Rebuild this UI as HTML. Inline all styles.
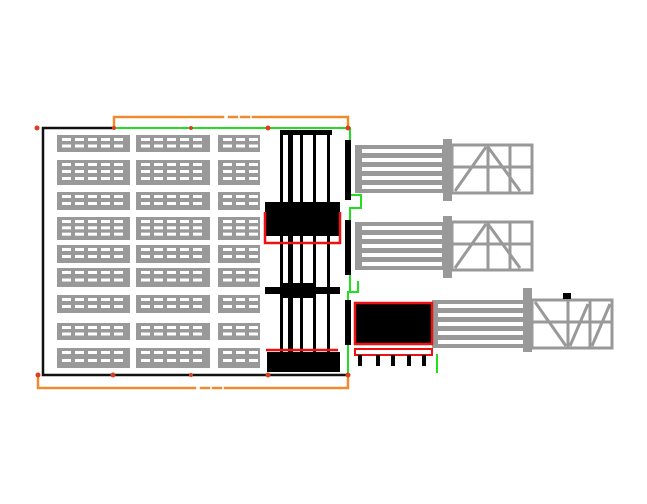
<!DOCTYPE html>
<html><head><meta charset="utf-8"><style>html,body{margin:0;padding:0;background:#fff}svg{display:block}</style></head>
<body>
<svg id="s" width="647" height="504" viewBox="0 0 647 504" xmlns="http://www.w3.org/2000/svg">
<g fill="none" stroke-linecap="square">
<path d="M114 128 V117 H348 V128" stroke="#f08a30" stroke-width="2.5" stroke-dasharray="120 6 8 4 8 4 200"/>
<path d="M38 375 V388 H348 V375" stroke="#f08a30" stroke-width="2.5" stroke-dasharray="170 6 8 4 8 4 200"/>
<path d="M114 128 H43 V375 H348" stroke="#111" stroke-width="2.5"/>
<path d="M114 128 H350" stroke="#22dd22" stroke-width="2"/>
<path d="M350 128 V195 H361 V208 H350 V292 H348 V372" stroke="#22dd22" stroke-width="2"/>
<path d="M350 292 H358 V282" stroke="#22dd22" stroke-width="2"/>
<path d="M437 355 V372" stroke="#22dd22" stroke-width="2"/>
</g>
<g id="racks" fill="#999"></g>
<g fill="#000">
<rect x="280" y="130" width="52" height="5"/>
<rect x="280" y="130" width="3" height="242"/>
<rect x="288" y="130" width="5" height="242"/>
<rect x="300" y="130" width="3" height="242"/>
<rect x="313" y="130" width="3" height="242"/>
<rect x="327" y="130" width="3" height="242"/>
<rect x="265" y="202" width="75" height="34"/>
<rect x="265" y="287" width="75" height="7"/>
<rect x="280" y="283" width="35" height="15"/>
<rect x="267" y="352" width="73" height="20"/>
<rect x="345" y="140" width="6" height="60"/>
<rect x="345" y="220" width="6" height="55"/>
<rect x="345" y="300" width="6" height="45"/>
</g>
<g fill="none" stroke="#ee1111" stroke-width="2.5">
<path d="M265 212 V243 H340 V212"/>
<path d="M266 350 H338"/>
</g>
<g id="mods"></g>
<rect x="355" y="303" width="77" height="41" fill="#000" stroke="#ee1111" stroke-width="2.5"/>
<rect x="355" y="349" width="77" height="6" fill="#fff" stroke="#ee1111" stroke-width="2"/>
<g fill="#000"><rect x="358" y="355" width="4" height="11"/><rect x="376" y="355" width="4" height="11"/><rect x="391" y="355" width="4" height="11"/><rect x="407" y="355" width="4" height="11"/><rect x="422" y="355" width="4" height="11"/><rect x="563" y="293" width="8" height="6"/></g>
<g fill="#d84020"><circle cx="37" cy="128" r="2.5"/><circle cx="38" cy="375" r="2.5"/><circle cx="113" cy="375" r="2.5"/><circle cx="191" cy="375" r="2"/><circle cx="268" cy="375" r="2.5"/><circle cx="268" cy="128" r="2.5"/><circle cx="191" cy="128" r="2"/><circle cx="348" cy="375" r="2.5"/><circle cx="114" cy="128" r="2"/><circle cx="348" cy="128" r="2.5"/></g>
</svg>
<script>
var NS="http://www.w3.org/2000/svg",r=document.getElementById('racks'),m=document.getElementById('mods');
function R(p,x,y,w,h,f){var e=document.createElementNS(NS,'rect');e.setAttribute('x',x);e.setAttribute('y',y);e.setAttribute('width',w);e.setAttribute('height',h);if(f)e.setAttribute('fill',f);p.appendChild(e);}
var rows=[[135,152],[160,185],[192,210],[217,240],[245,263],[268,287],[295,313],[323,340],[348,368]];
var cols=[[57,130],[136,210],[218,260]];
rows.forEach(function(rw){cols.forEach(function(c){
 var h=rw[1]-rw[0];R(r,c[0],rw[0],c[1]-c[0],h);
 var n=h>20?3:2;for(var k=0;k<n;k++){var yy=rw[0]+3+k*(h-4)/n;for(var x=c[0]+5;x<c[1]-8;x+=13)R(r,x,yy,9,3,'#fff');}
});});
function mod(y){var g=m;
 R(g,355,y,90,48,'#999');
 for(var i=0;i<5;i++)R(g,362,y+4+i*9,80,4,'#fff');
 R(g,443,y-6,9,62,'#999');
 var fr=document.createElementNS(NS,'path');fr.setAttribute('d','M452 '+y+' H532 V'+(y+48)+' H452 Z M452 '+(y+22)+' H532 M488 '+y+' V'+(y+48)+' M510 '+y+' V'+(y+48)+' M455 '+(y+46)+' L486 '+(y+2)+' M488 '+(y+2)+' L520 '+(y+46));
 fr.setAttribute('fill','none');fr.setAttribute('stroke','#999');fr.setAttribute('stroke-width','3');g.appendChild(fr);}
mod(145);mod(222);
R(m,432,300,95,48,'#999');for(var i=0;i<5;i++)R(m,438,304+i*9,85,4,'#fff');
R(m,523,288,9,64,'#999');
var fr=document.createElementNS(NS,'path');fr.setAttribute('d','M532 300 H612 V348 H532 Z M532 322 H612 M568 300 V348 M590 300 V348 M535 302 L566 346 M570 346 L588 304 M592 346 L610 304');fr.setAttribute('fill','none');fr.setAttribute('stroke','#999');fr.setAttribute('stroke-width','3');m.appendChild(fr);
</script>
</body></html>
